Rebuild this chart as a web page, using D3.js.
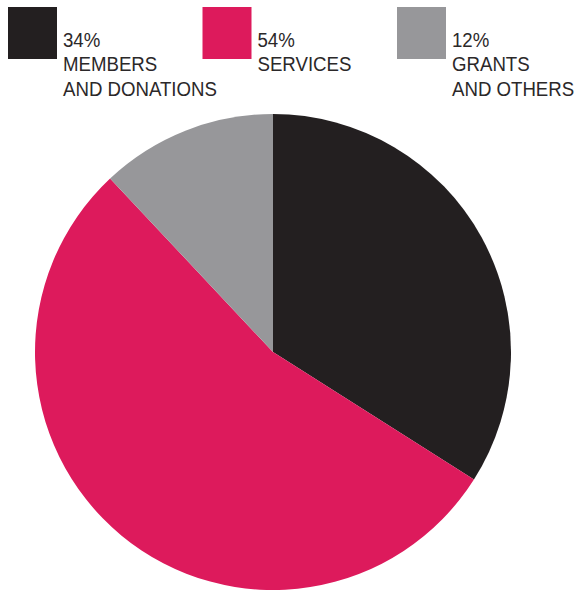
<!DOCTYPE html>
<html>
<head>
<meta charset="utf-8">
<script src="https://cdn.jsdelivr.net/npm/d3@7"></script>
<style>
  html, body { margin: 0; padding: 0; background: #fff; }
  svg { display: block; }
  .lbl { font-family: "Liberation Sans Narrow", "Arial Narrow", "Liberation Sans", sans-serif; font-size: 20.5px; fill: #2b2829; }
</style>
</head>
<body>
<svg id="chart" width="579" height="593"></svg>
<script>
// Income split by source
const categories = ["MEMBERS\nAND DONATIONS", "SERVICES", "GRANTS\nAND OTHERS"];
const shares = [34, 54, 12];
const colors = ["#231f20", "#dd1a5c", "#97979a"];

const svg = d3.select("#chart");

const cx = 273, cy = 352, radius = 238;

const pie = d3.pie().sort(null).value(d => d.value);
const arc = d3.arc().innerRadius(0).outerRadius(radius);

const data = shares.map((v, i) => ({ value: v, name: categories[i], color: colors[i] }));

const g = svg.append("g").attr("transform", `translate(${cx},${cy})`);
g.selectAll("path")
  .data(pie(data))
  .join("path")
  .attr("d", arc)
  .attr("fill", d => d.data.color);

// Legend across the top
const legendX = d3.scalePoint().domain(d3.range(data.length)).range([8, 397]);
const legend = svg.append("g");
const item = legend.selectAll("g")
  .data(data)
  .join("g")
  .attr("transform", (d, i) => `translate(${legendX(i)},7)`);

item.append("rect")
  .attr("width", 49)
  .attr("height", 52)
  .attr("fill", d => d.color);

// condensed labels: narrow the regular face horizontally
item.each(function(d) {
  const lines = [d.value + "%"].concat(d.name.split("\n"));
  const t = d3.select(this).append("text")
    .attr("class", "lbl")
    .attr("transform", "translate(55,0) scale(0.91,1)");
  lines.forEach((line, j) => {
    t.append("tspan")
      .attr("x", 0)
      .attr("y", 40 + j * 24.5)
      .text(line);
  });
});
</script>
</body>
</html>
